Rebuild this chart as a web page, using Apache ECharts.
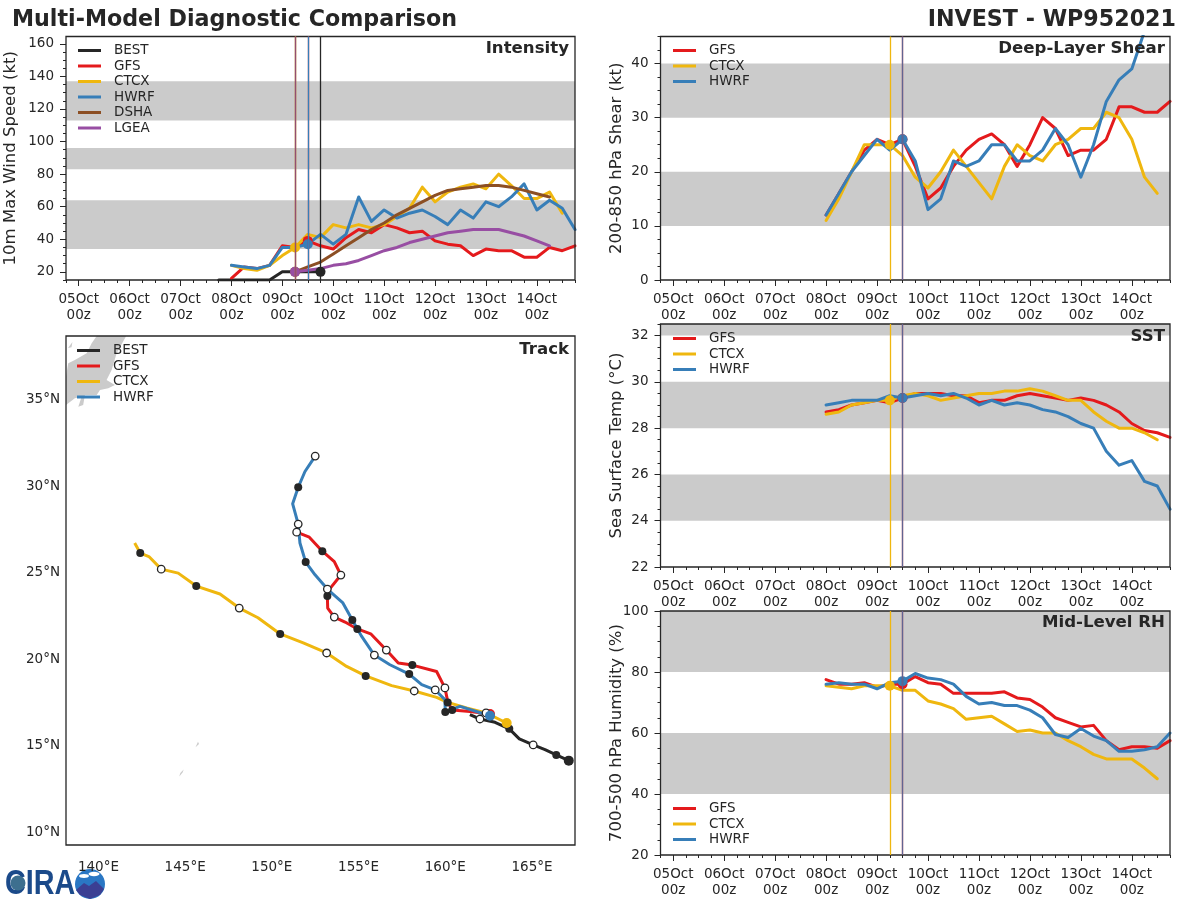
<!DOCTYPE html>
<html>
<head>
<meta charset="utf-8">
<title>Multi-Model Diagnostic Comparison</title>
<script src="https://cdn.jsdelivr.net/npm/echarts@6/dist/echarts.min.js"></script>
<style>
  html, body { margin: 0; padding: 0; background: #fff; }
  #chart { width: 1200px; height: 900px; }
</style>
</head>
<body>
<div id="chart"></div>
<script>
// time is in days since 05Oct 00z, model values are 6-hourly
const dayLabels = ['05Oct\n00z', '06Oct\n00z', '07Oct\n00z', '08Oct\n00z', '09Oct\n00z',
  '10Oct\n00z', '11Oct\n00z', '12Oct\n00z', '13Oct\n00z', '14Oct\n00z'];
const dayTicks = [0, 1, 2, 3, 4, 5, 6, 7, 8, 9];

const bestWind = [15, 15, 15, 15, 15, 20, 20, 20, 20];
const gfsWind = [16, 23, 22, 24, 36, 35, 39, 36, 34, 41, 46, 44, 49, 47, 44, 45, 39, 37, 36, 30, 34, 33, 33, 29, 29, 35, 33, 36];
const ctcxWind = [24, 22, 21, 24, 30, 35, 43, 41, 49, 47, 49, 47, 49, 54, 59, 72, 63, 69, 72, 74, 71, 80, 73, 65, 65, 69, 56];
const hwrfWind = [24, 23, 22, 24, 35, 35, 37, 43, 37, 43, 66, 51, 58, 53, 56, 58, 54, 49, 58, 53, 63, 60, 66, 74, 58, 64, 59, 46];
const dshaWind = [20, 23, 26, 31, 36, 41, 46, 50, 55, 59, 63, 67, 70, 71, 72, 73, 73, 72, 70, 68, 66];
const lgeaWind = [20, 21, 22, 24, 25, 27, 30, 33, 35, 38, 40, 42, 44, 45, 46, 46, 46, 44, 42, 39, 36];

const gfsShear = [12, 16, 20, 24, 26, 25, 26, 21, 15, 17, 21, 24, 26, 27, 25, 21, 25, 30, 28, 23, 24, 24, 26, 32, 32, 31, 31, 33];
const ctcxShear = [11, 15, 20, 25, 25, 25, 23, 19, 17, 20, 24, 21, 18, 15, 21, 25, 23, 22, 25, 26, 28, 28, 31, 30, 26, 19, 16];
const hwrfShear = [12, 16, 20, 23, 26, 24, 26, 22, 13, 15, 22, 21, 22, 25, 25, 22, 22, 24, 28, 25, 19, 25, 33, 37, 39, 46];

const gfsSst = [28.7, 28.8, 29.0, 29.1, 29.2, 29.1, 29.3, 29.5, 29.5, 29.5, 29.4, 29.4, 29.1, 29.2, 29.2, 29.4, 29.5, 29.4, 29.3, 29.2, 29.3, 29.2, 29.0, 28.7, 28.2, 27.9, 27.8, 27.6];
const ctcxSst = [28.6, 28.7, 29.0, 29.1, 29.2, 29.2, 29.4, 29.5, 29.4, 29.2, 29.3, 29.4, 29.5, 29.5, 29.6, 29.6, 29.7, 29.6, 29.4, 29.2, 29.2, 28.7, 28.3, 28.0, 28.0, 27.8, 27.5];
const hwrfSst = [29.0, 29.1, 29.2, 29.2, 29.2, 29.4, 29.3, 29.4, 29.5, 29.4, 29.5, 29.3, 29.0, 29.2, 29.0, 29.1, 29.0, 28.8, 28.7, 28.5, 28.2, 28.0, 27.0, 26.4, 26.6, 25.7, 25.5, 24.5];

const gfsRh = [77.5, 76, 76, 76.5, 75, 76, 76, 78.5, 76.5, 76, 73, 73, 73, 73, 73.5, 71.5, 71, 68.5, 65, 63.5, 62, 62.5, 57.5, 54.5, 55.5, 55.5, 55, 57.5];
const ctcxRh = [75.5, 75, 74.5, 75.5, 75.5, 75.5, 74, 74, 70.5, 69.5, 68, 64.5, 65, 65.5, 63, 60.5, 61, 60, 60, 57.5, 55.5, 53, 51.5, 51.5, 51.5, 48.5, 45];
const hwrfRh = [76, 76.5, 76, 76, 74.5, 76.5, 77, 79.5, 78, 77.5, 76, 72, 69.5, 70, 69, 69, 67.5, 65, 59.5, 58.5, 61.5, 59, 57.5, 54, 54, 54.5, 55.5, 60];

// tracks as [lon, lat], 6-hourly from each model's start time
const bestTrack = [[167.12, 14.13], [166.40, 14.46], [165.75, 14.77], [165.07, 15.04], [164.27, 15.39], [163.69, 15.97], [162.87, 16.35], [162.0, 16.54], [161.42, 16.79]];
const gfsTrack = [[162.58, 16.83], [161.42, 16.98], [160.40, 17.06], [160.14, 17.56], [159.98, 18.34], [159.50, 19.29], [158.10, 19.66], [157.29, 19.78], [156.60, 20.53], [155.70, 21.47], [154.93, 21.75], [154.22, 22.15], [153.60, 22.44], [153.22, 22.96], [153.20, 23.65], [153.35, 24.08], [153.98, 24.87], [153.60, 25.65], [152.91, 26.25], [152.16, 27.06], [151.43, 27.35]];
const ctcxTrack = [[163.54, 16.31], [162.35, 16.89], [161.23, 17.18], [160.14, 17.50], [159.50, 17.79], [158.21, 18.16], [156.91, 18.47], [155.41, 19.03], [154.31, 19.58], [153.16, 20.36], [151.81, 20.94], [150.48, 21.46], [149.20, 22.40], [148.12, 22.96], [147.01, 23.77], [145.64, 24.23], [144.60, 24.98], [143.62, 25.21], [142.91, 25.94], [142.41, 26.14], [142.09, 26.72]];
const hwrfTrack = [[162.58, 16.73], [160.85, 17.27], [160.0, 16.95], [159.98, 17.66], [159.42, 18.22], [158.64, 18.53], [157.92, 19.14], [156.81, 19.68], [155.91, 20.24], [155.18, 21.32], [154.64, 22.27], [154.08, 23.28], [153.20, 24.06], [152.49, 24.88], [151.95, 25.62], [151.62, 26.72], [151.52, 27.82], [151.20, 28.99], [151.52, 29.95], [151.91, 30.86], [152.50, 31.75]];

const honshu = [[141.6, 38.9], [139.90, 38.9], [139.61, 38.28], [139.32, 37.70], [138.64, 37.31], [138.26, 37.12], [138.0, 36.35], [138.0, 34.71], [138.64, 35.10], [139.03, 35.19], [138.84, 34.61], [139.12, 34.71], [139.22, 35.29], [139.90, 35.29], [140.09, 35.58], [140.57, 35.68], [140.95, 35.87], [140.47, 36.16], [140.76, 36.73], [141.05, 37.70]];
const sado = [[138.25, 38.0], [138.5, 38.35], [138.45, 38.05]];
const saipan = [[145.74, 15.22], [145.80, 15.1], [145.6, 14.9]];
const guam = [[144.92, 13.62], [144.85, 13.45], [144.66, 13.22], [144.72, 13.42]];

const intensityBands = [[34, 64], [83, 96], [113, 137]];
const shearBands = [[10, 20], [30, 40]];
const sstBands = [[24, 26], [28, 30], [32, 32.5]];
const rhBands = [[40, 60], [80, 100]];

const windTicks = [20, 40, 60, 80, 100, 120, 140, 160];
const shearTicks = [0, 10, 20, 30, 40];
const sstTicks = [22, 24, 26, 28, 30, 32];
const rhTicks = [20, 40, 60, 80, 100];
const lonTicks = [140, 145, 150, 155, 160, 165];
const latTicks = [10, 15, 20, 25, 30, 35];

const COLORS = { BEST: '#262626', GFS: '#e41a1c', CTCX: '#efb70f', HWRF: '#377eb8', DSHA: '#8c4f24', LGEA: '#984ea3' };
const INK = '#262626';
const FONT = 'DejaVu Sans';
const BAND = '#cbcbcb';
const LINE_W = 3;

const grids = [];
const xAxes = [];
const yAxes = [];
const series = [];
const legends = [];
const titles = [];

function stepTicks(min, max, step) {
  const out = [];
  for (let v = Math.ceil(min / step) * step; v <= max + 1e-9; v += step) out.push(+v.toFixed(3));
  return out;
}

function toPoints(start, values) {
  return values.map((v, i) => [start + i * 0.25, v]);
}

function addLegend(names, left, top) {
  legends.push({
    data: names, left: left, top: top, orient: 'vertical', icon: 'rect',
    itemWidth: 23, itemHeight: 3, itemGap: 0.5, padding: 0, selectedMode: false,
    textStyle: { color: INK, fontFamily: FONT, fontSize: 13.5, lineHeight: 15, padding: [0, 0, 0, 8] },
  });
}

function addTitle(text, right, top) {
  titles.push({
    text: text, right: right, top: top, padding: 0,
    textStyle: { color: INK, fontFamily: FONT, fontWeight: 'bold', fontSize: 16.6 },
  });
}

function tickAxis(base, values, length) {
  return Object.assign({
    type: 'value',
    gridIndex: grids.length - 1,
    axisLine: { show: false, onZero: false },
    splitLine: { show: false },
    axisLabel: { show: false },
    axisTick: { show: true, length: length, customValues: values, lineStyle: { color: INK, width: 1 } },
  }, base);
}

// one time-series panel: grid, major + minor axes, shaded bands
function addPanel(cfg) {
  grids.push({ left: cfg.left, top: cfg.top, width: cfg.width, height: cfg.height, show: true, z: 5, borderColor: INK, borderWidth: 1.3, backgroundColor: 'transparent' });
  const xBase = { min: -0.25, max: 9.75, position: 'bottom' };
  const yBase = { min: cfg.yMin, max: cfg.yMax, position: 'left' };
  const xIndex = xAxes.length;
  const yIndex = yAxes.length;

  xAxes.push(tickAxis(Object.assign({}, xBase, {
    axisLabel: {
      show: true, customValues: dayTicks, margin: 11, color: INK, fontFamily: FONT, fontSize: 13.5, lineHeight: 16,
      formatter: (v) => dayLabels[v],
    },
  }), dayTicks, 6));
  xAxes.push(tickAxis(xBase, stepTicks(-0.25, 9.75, 0.25), 3));

  yAxes.push(tickAxis(Object.assign({}, yBase, {
    name: cfg.yName, nameLocation: 'middle', nameRotate: 90, nameGap: cfg.nameGap, nameMoveOverlap: false,
    nameTextStyle: { color: INK, fontFamily: FONT, fontSize: 16.5 },
    axisLabel: { show: true, customValues: cfg.yTicks, margin: 12, color: INK, fontFamily: FONT, fontSize: 13.5, padding: [4, 0, 0, 0] },
  }), cfg.yTicks, 6));
  yAxes.push(tickAxis(yBase, stepTicks(cfg.yMin, cfg.yMax, cfg.minorStep), 3));

  series.push({
    type: 'line', xAxisIndex: xIndex, yAxisIndex: yIndex, data: [], z: 1, silent: true,
    markArea: {
      silent: true, itemStyle: { color: BAND, opacity: 1 },
      data: cfg.bands.map((b) => [{ yAxis: b[0] }, { yAxis: b[1] }]),
    },
  });

  cfg.lines.forEach((l) => {
    series.push({
      name: l.name, type: 'line', xAxisIndex: xIndex, yAxisIndex: yIndex,
      data: toPoints(l.start, l.values),
      color: COLORS[l.name],
      lineStyle: { color: COLORS[l.name], width: LINE_W, cap: 'round', join: 'round' },
      itemStyle: { color: COLORS[l.name] },
      symbol: 'circle', showAllSymbol: true,
      symbolSize: (v) => (v[0] === l.now ? 10 : 0),
      z: 3,
      markLine: {
        silent: true, symbol: 'none', animation: false, label: { show: false },
        lineStyle: { color: COLORS[l.name], width: 1.3, type: 'solid', opacity: l.lineOpacity || 1 },
        data: [{ xAxis: l.now }],
      },
    });
  });
}

addPanel({
  left: 66, top: 36.5, width: 509, height: 243.5, yMin: 15, yMax: 164.5, yTicks: windTicks, minorStep: 5,
  yName: '10m Max Wind Speed (kt)', nameGap: 47, bands: intensityBands,
  lines: [
    { name: 'BEST', start: 2.75, now: 4.75, values: bestWind },
    { name: 'GFS', start: 3, now: 4.5, values: gfsWind },
    { name: 'CTCX', start: 3, now: 4.25, values: ctcxWind },
    { name: 'HWRF', start: 3, now: 4.5, values: hwrfWind },
    { name: 'DSHA', start: 4.25, now: 4.25, values: dshaWind },
    { name: 'LGEA', start: 4.25, now: 4.25, values: lgeaWind, lineOpacity: 0.6 },
  ],
});
addLegend(['BEST', 'GFS', 'CTCX', 'HWRF', 'DSHA', 'LGEA'], 78, 43);
addTitle('Intensity', 631, 40);

const threeModels = (gfs, ctcx, hwrf) => [
  { name: 'GFS', start: 3, now: 4.5, values: gfs },
  { name: 'CTCX', start: 3, now: 4.25, values: ctcx },
  { name: 'HWRF', start: 3, now: 4.5, values: hwrf, lineOpacity: 0.75 },
];

addPanel({
  left: 660.5, top: 36.5, width: 509.5, height: 243.5, yMin: 0, yMax: 45, yTicks: shearTicks, minorStep: 2.5,
  yName: '200-850 hPa Shear (kt)', nameGap: 35, bands: shearBands, lines: threeModels(gfsShear, ctcxShear, hwrfShear),
});
addLegend(['GFS', 'CTCX', 'HWRF'], 673, 43);
addTitle('Deep-Layer Shear', 35, 40);

addPanel({
  left: 660.5, top: 324, width: 509.5, height: 243, yMin: 22, yMax: 32.5, yTicks: sstTicks, minorStep: 0.5,
  yName: 'Sea Surface Temp (°C)', nameGap: 35, bands: sstBands, lines: threeModels(gfsSst, ctcxSst, hwrfSst),
});
addLegend(['GFS', 'CTCX', 'HWRF'], 673, 331);
addTitle('SST', 35, 328);

addPanel({
  left: 660.5, top: 611, width: 509.5, height: 244, yMin: 20, yMax: 100, yTicks: rhTicks, minorStep: 5,
  yName: '700-500 hPa Humidity (%)', nameGap: 35, bands: rhBands, lines: threeModels(gfsRh, ctcxRh, hwrfRh),
});
addLegend(['GFS', 'CTCX', 'HWRF'], 673, 801);
addTitle('Mid-Level RH', 35, 614);

// track map, lon/lat drawn as plain linear axes
grids.push({ left: 66, top: 336, width: 509, height: 509, show: true, z: 5, borderColor: INK, borderWidth: 1.3, backgroundColor: 'transparent' });
const mapIndex = xAxes.length;
const mapY = yAxes.length;
xAxes.push({
  type: 'value', gridIndex: grids.length - 1, min: 138.13, max: 167.48, position: 'bottom',
  axisLine: { show: false, onZero: false }, axisTick: { show: false }, splitLine: { show: false },
  axisLabel: { customValues: lonTicks, margin: 15, color: INK, fontFamily: FONT, fontSize: 13.5, formatter: (v) => v + '°E' },
});
yAxes.push({
  type: 'value', gridIndex: grids.length - 1, min: 9.25, max: 38.7, position: 'left',
  axisLine: { show: false, onZero: false }, axisTick: { show: false }, splitLine: { show: false },
  axisLabel: { customValues: latTicks, margin: 6, color: INK, fontFamily: FONT, fontSize: 13.5, padding: [4, 0, 0, 0], formatter: (v) => v + '°N' },
});

series.push({
  type: 'custom', xAxisIndex: mapIndex, yAxisIndex: mapY, coordinateSystem: 'cartesian2d', silent: true, z: 1,
  clip: true,
  data: [honshu, sado, saipan, guam].map((p, i) => ({ value: [i] })),
  encode: { x: -1, y: -1 },
  renderItem: (params, api) => {
    const shape = [honshu, sado, saipan, guam][params.dataIndex];
    return {
      type: 'polygon',
      shape: { points: echarts.graphic.clipPointsByRect(shape.map((p) => api.coord(p)), params.coordSys) },
      style: { fill: BAND },
    };
  },
});

function addTrack(name, startDay, track) {
  series.push({
    name: name, type: 'line', xAxisIndex: mapIndex, yAxisIndex: mapY,
    color: COLORS[name],
    lineStyle: { color: COLORS[name], width: LINE_W, join: 'round' },
    itemStyle: { color: COLORS[name] },
    symbol: 'circle', showAllSymbol: true, z: 3,
    data: track.map((p, i) => {
      const t = startDay + i * 0.25;
      if (i === 0) return { value: p, symbolSize: 10 };
      if (Number.isInteger(t)) return { value: p, symbolSize: 8, itemStyle: { color: INK } };
      if (Number.isInteger(t * 2)) return { value: p, symbolSize: 7.5, itemStyle: { color: '#fff', borderColor: INK, borderWidth: 1.3 } };
      return { value: p, symbolSize: 0 };
    }),
  });
}
addTrack('BEST', 2.75, bestTrack);
addTrack('GFS', 4.5, gfsTrack);
addTrack('CTCX', 4.25, ctcxTrack);
addTrack('HWRF', 4.5, hwrfTrack);

addLegend(['BEST', 'GFS', 'CTCX', 'HWRF'], 77, 343);
addTitle('Track', 631, 341);

titles.push({ text: 'Multi-Model Diagnostic Comparison', left: 12, top: 9, padding: 0, textStyle: { color: INK, fontFamily: FONT, fontWeight: 'bold', fontSize: 22.2 } });
titles.push({ text: 'INVEST - WP952021', right: 24, top: 9, padding: 0, textStyle: { color: INK, fontFamily: FONT, fontWeight: 'bold', fontSize: 22.2 } });

// rough stand-in for the CIRA logo
const logo = [
  { type: 'text', x: 5, y: 867, scaleX: 0.82, style: { text: 'CIRA', fill: '#1b4a8a', font: 'bold 35px "Liberation Sans"' } },
  { type: 'circle', shape: { cx: 18, cy: 883, r: 7.5 }, style: { fill: '#3d6f8f' } },
  { type: 'circle', shape: { cx: 90, cy: 884, r: 15 }, style: { fill: '#2a77c4' } },
  { type: 'polygon', shape: { points: [[76, 890], [84, 883], [89, 886], [96, 881], [104, 889], [100, 895], [90, 899], [80, 895]] }, style: { fill: '#3b3f93' } },
  { type: 'ellipse', shape: { cx: 84, cy: 876, rx: 5, ry: 2 }, style: { fill: '#fff' } },
  { type: 'ellipse', shape: { cx: 94, cy: 874, rx: 5.5, ry: 2.2 }, style: { fill: '#fff' } },
];

const chart = echarts.init(document.getElementById('chart'), null, { renderer: 'canvas' });
chart.setOption({
  animation: false,
  backgroundColor: '#fff',
  title: titles,
  legend: legends,
  grid: grids,
  xAxis: xAxes,
  yAxis: yAxes,
  series: series,
  graphic: logo,
});
</script>
</body>
</html>
